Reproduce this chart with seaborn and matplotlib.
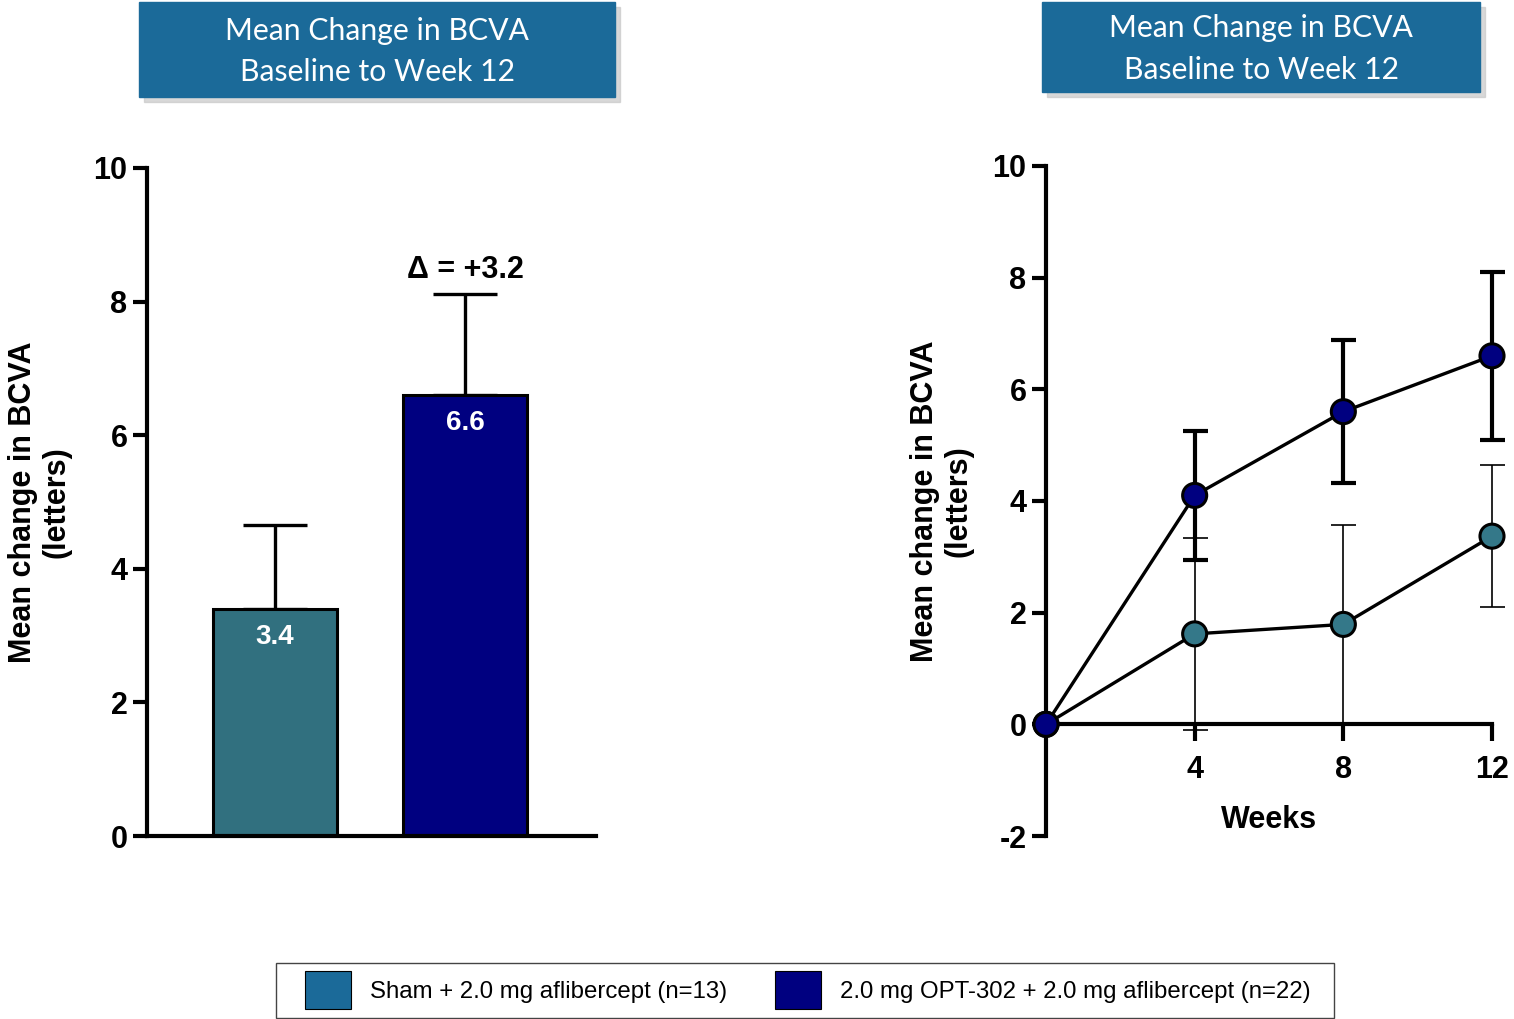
import numpy as np
import pandas as pd
import seaborn as sns
import matplotlib.pyplot as plt
from matplotlib.patches import Rectangle, Patch

sns.set_theme(style="ticks")
plt.rcParams['font.family'] = ['Liberation Sans', 'DejaVu Sans']
plt.rcParams.update({
    "text.color": "black", "axes.labelcolor": "black", "axes.edgecolor": "black",
    "xtick.color": "black", "ytick.color": "black", "axes.unicode_minus": False,
})

# ---- data ----
groups = ["Sham + 2.0 mg aflibercept (n=13)", "2.0 mg OPT-302 + 2.0 mg aflibercept (n=22)"]
bar_means = [3.4, 6.6]
bar_err = [1.26, 1.52]
delta_text = "\u0394 = +3.2"

weeks = [0, 4, 8, 12]
sham_mean = [0, 1.62, 1.79, 3.37]
sham_err = [0, 1.72, 1.78, 1.27]
opt_mean = [0, 4.1, 5.6, 6.6]
opt_err = [0, 1.16, 1.28, 1.5]

title_lines = "Mean Change in BCVA\nBaseline to Week 12"
ylab = "Mean change in BCVA\n(letters)"

bar_colors = ["#31707f", "#000080"]
marker_colors = ["#347889", "#000080"]
legend_colors = ["#1b6a99", "#000080"]
box_color = "#1b6a99"

fig = plt.figure(figsize=(15.14, 10.19), dpi=100)

# ---- left: bar chart ----
ax1 = fig.add_axes([147/1514, 1 - 836/1019, (596 - 147)/1514, (836 - 168)/1019])
bdf = pd.DataFrame({"group": groups, "mean": bar_means})
sns.barplot(data=bdf, x="group", y="mean", hue="group", palette=bar_colors,
            saturation=1, width=0.65, edgecolor="black", linewidth=2.2,
            errorbar=None, legend=False, ax=ax1, zorder=2)
ax1.errorbar(range(len(groups)), bar_means, yerr=[np.zeros(2), bar_err],
             fmt="none", ecolor="black", elinewidth=2.4, capsize=23,
             capthick=2.4, zorder=1)
for i, v in enumerate(bar_means):
    ax1.text(i, v - 0.22, f"{v:.1f}", ha="center", va="top", color="white",
             fontsize=20, fontweight="bold",
             family=['Liberation Sans Narrow', 'Liberation Sans'])
ax1.text(1, bar_means[1] + bar_err[1] + 0.13, delta_text, ha="center",
         va="bottom", fontsize=22, fontweight="bold")
ax1.set_xlim(-0.674, 1.689)
ax1.set_ylim(0, 10)
ax1.set_yticks([0, 2, 4, 6, 8, 10])
ax1.set_xticks([])
ax1.set_xlabel("")
ax1.set_ylabel(ylab, fontsize=22, fontweight="bold", labelpad=16, linespacing=1.15)
for t in ax1.get_yticklabels():
    t.set_fontweight("bold")
ax1.tick_params(axis="y", labelsize=22, width=3, length=10, pad=4)
sns.despine(ax=ax1)
for s in ["left", "bottom"]:
    ax1.spines[s].set_linewidth(3)

# ---- right: line chart ----
ax2 = fig.add_axes([1046/1514, 1 - 836/1019, (1492 - 1046)/1514, (836 - 166)/1019])
ldf = pd.DataFrame({
    "week": weeks * 2,
    "change": sham_mean + opt_mean,
    "group": [groups[0]] * len(weeks) + [groups[1]] * len(weeks),
})
sns.lineplot(data=ldf, x="week", y="change", units="group", estimator=None,
             color="black", linewidth=2.4, ax=ax2, zorder=3)
eb1 = ax2.errorbar(weeks[1:], sham_mean[1:], yerr=sham_err[1:], fmt="none",
                   ecolor="black", elinewidth=1.2, capsize=9, capthick=1.2, zorder=2)
eb2 = ax2.errorbar(weeks[1:], opt_mean[1:], yerr=opt_err[1:], fmt="none",
                   ecolor="black", elinewidth=3, capsize=9, capthick=3, zorder=2)
for eb in (eb1, eb2):
    for art in eb.lines[1] + eb.lines[2]:
        art.set_clip_on(False)
sns.scatterplot(data=ldf, x="week", y="change", hue="group",
                palette=marker_colors, s=300, edgecolor="black",
                linewidth=2.2, legend=False, ax=ax2, zorder=5)
for c in ax2.collections:
    c.set_clip_on(False)
ax2.set_xlim(0, 12)
ax2.set_ylim(-2, 10)
ax2.set_yticks([-2, 0, 2, 4, 6, 8, 10])
ax2.set_xticks([4, 8, 12])
ax2.spines["bottom"].set_position(("data", 0))
sns.despine(ax=ax2)
for s in ["left", "bottom"]:
    ax2.spines[s].set_linewidth(3)
ax2.tick_params(axis="both", labelsize=22, width=3, length=10, pad=4)
ax2.tick_params(axis="x", length=12, pad=10)
for t in ax2.get_yticklabels() + ax2.get_xticklabels():
    t.set_fontweight("bold")
ax2.set_xlabel("")
ax2.set_ylabel(ylab, fontsize=22, fontweight="bold", labelpad=14, linespacing=1.15)
ax2.text(6, -1.72, "Weeks", ha="center", va="center", fontsize=22,
         fontweight="bold")

# ---- title boxes ----
for (x0, x1, y0, y1) in [(139, 615, 2, 97), (1042, 1480, 2, 92)]:
    fx, fw = x0 / 1514, (x1 - x0) / 1514
    fy, fh = 1 - y1 / 1019, (y1 - y0) / 1019
    fig.patches.append(Rectangle((fx + 0.003, fy - 0.005), fw, fh,
                                 transform=fig.transFigure, color="#c8c8c8",
                                 alpha=0.7, zorder=0))
    fig.patches.append(Rectangle((fx, fy), fw, fh, transform=fig.transFigure,
                                 color=box_color, zorder=1))
    fig.text(fx + fw / 2, fy + fh / 2 - 0.002, title_lines, ha="center",
             va="center", color="white", fontsize=21.7, linespacing=1.58,
             family=['Lato', 'DejaVu Sans'])

# ---- legend ----
fig.patches.append(Rectangle((276 / 1514, 1 - 1018 / 1019), (1334 - 276) / 1514,
                             55 / 1019, transform=fig.transFigure,
                             facecolor="white", edgecolor="#444444", linewidth=1))
handles = [Patch(facecolor=c, edgecolor="black", linewidth=0.8) for c in legend_colors]
fig.legend(handles, groups, loc="center left", bbox_to_anchor=(305 / 1514, 1 - 990 / 1019),
           ncol=2, fontsize=17.3, frameon=False, borderpad=0, borderaxespad=0,
           handlelength=1.9, handleheight=2.1, columnspacing=2.0,
           handletextpad=0.8)

fig.savefig("out.png", dpi=100)
